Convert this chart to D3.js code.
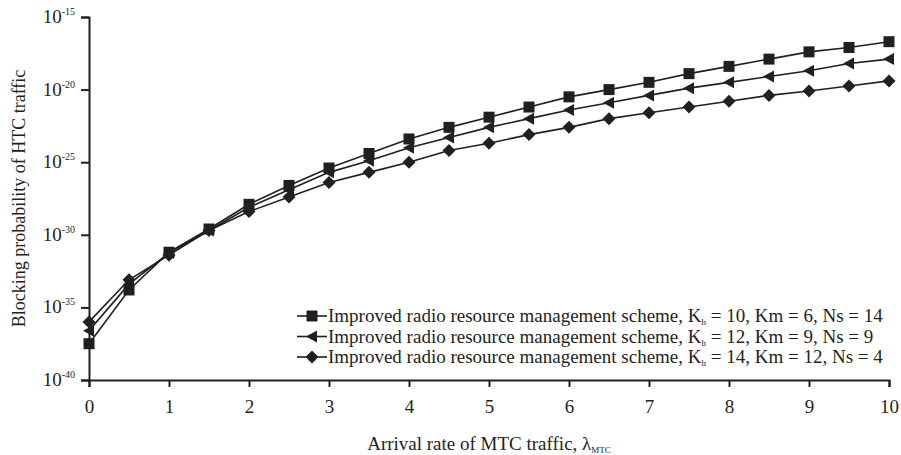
<!DOCTYPE html>
<html>
<head>
<meta charset="utf-8">
<script src="https://cdn.jsdelivr.net/npm/d3@7"></script>
<style>
  body { margin: 0; background: #fff; }
  text { font-family: "Liberation Serif", "Times New Roman", serif; fill: #231f20; }
</style>
</head>
<body>
<script>
// arrival rate of MTC traffic
var lambda = [0, 0.5, 1, 1.5, 2, 2.5, 3, 3.5, 4, 4.5, 5, 5.5, 6, 6.5, 7, 7.5, 8, 8.5, 9, 9.5, 10];

// blocking probability, written as powers of ten
var kh10 = [-37.5, -33.8, -31.2, -29.6, -27.9, -26.6, -25.4, -24.4, -23.4, -22.6, -21.9,
            -21.2, -20.5, -20.0, -19.5, -18.9, -18.4, -17.9, -17.4, -17.1, -16.7].map(e => Math.pow(10, e));
var kh12 = [-36.6, -33.4, -31.25, -29.7, -28.1, -26.9, -25.7, -24.9, -24.0, -23.3, -22.6,
            -22.0, -21.4, -20.9, -20.4, -19.9, -19.5, -19.1, -18.7, -18.2, -17.9].map(e => Math.pow(10, e));
var kh14 = [-36.0, -33.1, -31.4, -29.7, -28.4, -27.4, -26.4, -25.7, -25.0, -24.2, -23.7,
            -23.1, -22.6, -22.0, -21.6, -21.2, -20.8, -20.4, -20.1, -19.75, -19.4].map(e => Math.pow(10, e));

var xTicks = [0, 1, 2, 3, 4, 5, 6, 7, 8, 9, 10];
var yExps = [-40, -35, -30, -25, -20, -15];

var series = [
  { values: kh10, shape: 'square',   rest: ' = 10, Km = 6, Ns = 14' },
  { values: kh12, shape: 'triangle', rest: ' = 12, Km = 9, Ns = 9' },
  { values: kh14, shape: 'diamond',  rest: ' = 14, Km = 12, Ns = 4' }
];

var w = 901, h = 455;
var plotL = 89, plotR = 889, plotT = 17, plotB = 380;
var ink = '#231f20';

var svg = d3.select('body')
            .append('svg')
            .attr('width', w)
            .attr('height', h);

var x = d3.scaleLinear().domain([0, 10]).range([plotL, plotR]);
var y = d3.scaleLog().domain([1e-40, 1e-15]).range([plotB, plotT]);

// axes
var xAxis = svg.append('g')
  .attr('transform', 'translate(0,' + plotB + ')')
  .call(d3.axisBottom(x).tickValues(xTicks).tickSize(7).tickPadding(13).tickFormat(d3.format('d')));

var yAxis = svg.append('g')
  .attr('transform', 'translate(' + plotL + ',0)')
  .call(d3.axisLeft(y).tickValues(yExps.map(e => Math.pow(10, e))).tickSize(8).tickFormat(''));

[xAxis, yAxis].forEach(g => {
  g.select('.domain').attr('stroke', ink).attr('stroke-width', 2);
  g.selectAll('.tick line').attr('stroke', ink).attr('stroke-width', 2);
});
xAxis.selectAll('.tick text').attr('font-size', '19px').attr('fill', ink)
  .style('font-family', '"Liberation Serif", serif');

// y tick labels 10^n
var yl = svg.selectAll('.ylab')
  .data(yExps)
  .enter()
  .append('text')
    .attr('class', 'ylab')
    .attr('x', 75)
    .attr('y', (d) => { return y(Math.pow(10, d)) + 6; })
    .attr('text-anchor', 'end')
    .attr('font-size', '19px');
yl.append('tspan').text('10');
yl.append('tspan')
  .attr('dy', -8)
  .attr('font-size', '10px')
  .text((d) => { return d; });

// axis titles
svg.append('text')
  .attr('transform', 'translate(25,' + ((plotT + plotB) / 2) + ') rotate(-90)')
  .attr('text-anchor', 'middle')
  .attr('font-size', '18px')
  .text('Blocking probability of HTC traffic');

var xt = svg.append('text')
  .attr('x', (plotL + plotR) / 2)
  .attr('y', 450)
  .attr('text-anchor', 'middle')
  .attr('font-size', '19px');
xt.append('tspan').text('Arrival rate of MTC traffic, λ');
xt.append('tspan').attr('dy', 3).attr('font-size', '9px').text('MTC');

// markers
function marker(g, shape) {
  if (shape === 'square') {
    g.append('rect').attr('x', -5.5).attr('y', -5.5).attr('width', 11).attr('height', 11).attr('fill', ink);
  } else if (shape === 'triangle') {
    g.append('path').attr('d', 'M-6,0L5,-6L5,6Z').attr('fill', ink);
  } else {
    g.append('path').attr('d', 'M0,-6.5L6.5,0L0,6.5L-6.5,0Z').attr('fill', ink);
  }
}

var line = d3.line()
  .x((d, i) => { return x(lambda[i]); })
  .y((d) => { return y(d); });

series.forEach(s => {
  svg.append('path')
    .attr('d', line(s.values))
    .attr('fill', 'none')
    .attr('stroke', ink)
    .attr('stroke-width', 1.6);
  s.values.forEach((v, i) => {
    var g = svg.append('g').attr('transform', 'translate(' + x(lambda[i]) + ',' + y(v) + ')');
    marker(g, s.shape);
  });
});

// legend
var legend = svg.append('g').attr('transform', 'translate(297,316)');
series.forEach((s, i) => {
  var row = legend.append('g').attr('transform', 'translate(0,' + (i * 20.5) + ')');
  row.append('line')
    .attr('x1', 0).attr('x2', 30)
    .attr('stroke', ink).attr('stroke-width', 1.6);
  marker(row.append('g').attr('transform', 'translate(15,0)'), s.shape);
  var t = row.append('text')
    .attr('x', 31)
    .attr('y', 6)
    .attr('font-size', '19px');
  t.append('tspan').text('Improved radio resource management scheme, K');
  t.append('tspan').attr('dy', 3).attr('font-size', '9px').text('h');
  t.append('tspan').attr('dy', -3).text(s.rest);
});
</script>
</body>
</html>
